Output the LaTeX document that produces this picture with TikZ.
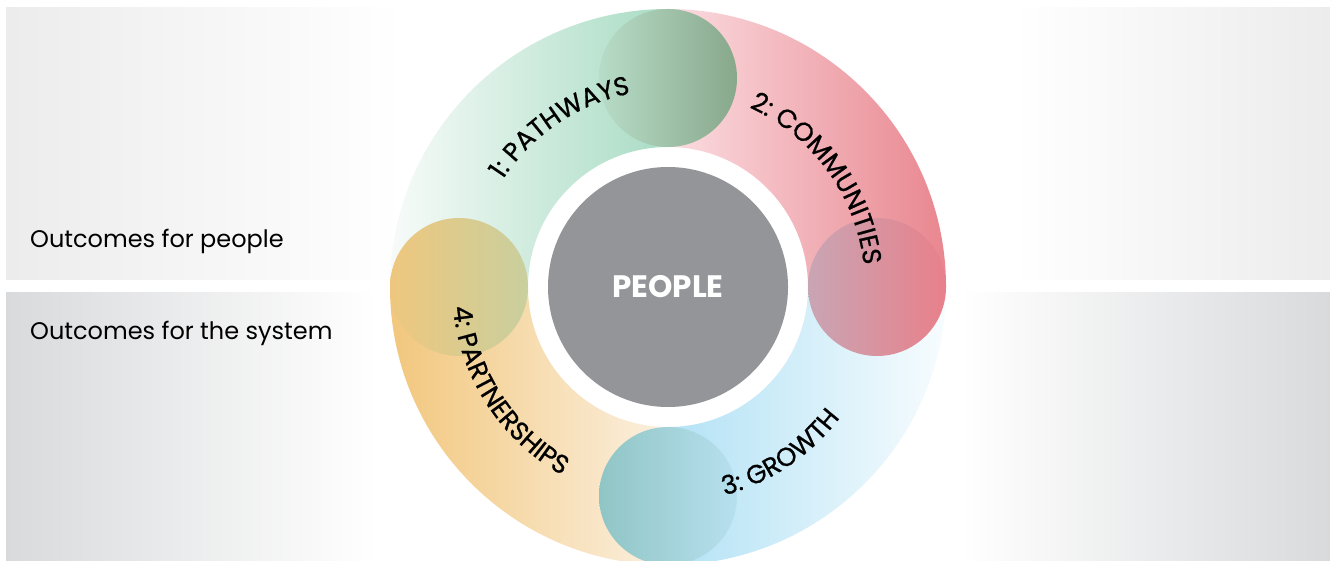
\documentclass[tikz,border=0pt]{standalone}
\usepackage{fontspec}
\setmainfont{Poppins}
\newfontfamily\ringfont[FakeBold=0.8]{Poppins}
\usetikzlibrary{decorations.text}

\definecolor{bandA}{HTML}{ECECEC}
\definecolor{bandB}{HTML}{D9DADC}
\definecolor{grnA}{HTML}{F7FBF9}
\definecolor{grnB}{HTML}{A9DCC4}
\definecolor{pnkA}{HTML}{FADDE1}
\definecolor{pnkB}{HTML}{E9868F}
\definecolor{bluA}{HTML}{B3E2F5}
\definecolor{bluB}{HTML}{F7FCFE}
\definecolor{orgA}{HTML}{F2C77D}
\definecolor{orgB}{HTML}{FBF0E0}
\definecolor{capgrnA}{HTML}{B7DCC7}
\definecolor{capgrnB}{HTML}{88A88B}
\definecolor{cappnkA}{HTML}{C9A5B4}
\definecolor{cappnkB}{HTML}{E8808A}
\definecolor{capbluA}{HTML}{90C5C5}
\definecolor{capbluB}{HTML}{B7E0EE}
\definecolor{caporgA}{HTML}{EEC77E}
\definecolor{caporgB}{HTML}{C9CF9E}
\definecolor{peoplegrey}{HTML}{939598}

\pgfdeclarehorizontalshading{topband}{100bp}{color(0bp)=(bandA); color(25bp)=(bandA); color(40bp)=(white); color(63bp)=(white); color(75bp)=(bandA); color(100bp)=(bandA)}
\pgfdeclarehorizontalshading{lowband}{100bp}{color(0bp)=(bandB); color(25bp)=(bandB); color(39bp)=(white); color(61bp)=(white); color(75bp)=(bandB); color(100bp)=(bandB)}

\newcommand\ringlabel{\ringfont\fontsize{26}{26}\selectfont}

\begin{document}
\begin{tikzpicture}[x=1pt,y=1pt]
	\useasboundingbox (0,0) rectangle (1330,560);
	\clip (0,0) rectangle (1330,560);
	\coordinate (O) at (668,273);

	% the two bands
	\fill[shading=topband] (6,280) rectangle (1330,552);
	\fill[shading=lowband] (6,0) rectangle (1330,267);
	\node[anchor=west,inner sep=0,font=\fontsize{24}{24}\selectfont] (tpeople) at (30,319) {Outcomes for people};
	\node[anchor=west,inner sep=0,font=\fontsize{24}{24}\selectfont] (tsystem) at (30,227) {Outcomes for the system};

	% ring parts
	\fill[white] (O) circle[radius=140];
	\shade[left color=grnA, right color=grnB] ([shift={(180:278)}]O) arc[start angle=180, end angle=90, radius=278] -- ([shift={(90:140)}]O) arc[start angle=90, end angle=180, radius=140] -- cycle;
	\shade[left color=pnkA, right color=pnkB] ([shift={(90:278)}]O) arc[start angle=90, end angle=0, radius=278] -- ([shift={(0:140)}]O) arc[start angle=0, end angle=90, radius=140] -- cycle;
	\shade[left color=bluA, right color=bluB] ([shift={(0:278)}]O) arc[start angle=0, end angle=-90, radius=278] -- ([shift={(-90:140)}]O) arc[start angle=-90, end angle=0, radius=140] -- cycle;
	\shade[left color=orgA, right color=orgB] ([shift={(-90:278)}]O) arc[start angle=-90, end angle=-180, radius=278] -- ([shift={(-180:140)}]O) arc[start angle=-180, end angle=-90, radius=140] -- cycle;

	% end caps
	\tikzstyle{endcap}=[radius=69]
	\shade[endcap, left color=capgrnA, right color=capgrnB] ([shift={(90:209)}]O) circle;
	\shade[endcap, left color=cappnkA, right color=cappnkB] ([shift={(0:209)}]O) circle;
	\shade[endcap, left color=capbluA, right color=capbluB] ([shift={(-90:209)}]O) circle;
	\shade[endcap, left color=caporgA, right color=caporgB] ([shift={(180:209)}]O) circle;

	\node[circle,fill=peoplegrey,minimum size=240,inner sep=0,text=white,font=\fontsize{31}{31}\selectfont\bfseries] (people) at (O) {PEOPLE};

	% labels on the ring
	\path[decorate, decoration={text along path, text align=center, text={|\ringlabel|1: PATHWAYS}}] ([shift={(174:197)}]O) arc[start angle=174, end angle=74, radius=197];
	\path[decorate, decoration={text along path, text align=center, text={|\ringlabel|2: COMMUNITIES}}] ([shift={(86:197)}]O) arc[start angle=86, end angle=-14, radius=197];
	\path[decorate, decoration={text along path, text align=center, text={|\ringlabel|3: GROWTH}}] ([shift={(-106:216)}]O) arc[start angle=-106, end angle=-6, radius=216];
	\path[decorate, decoration={text along path, text align=center, text={|\ringlabel|4: PARTNERSHIPS}}] ([shift={(163:216)}]O) arc[start angle=163, end angle=263, radius=216];
\end{tikzpicture}
\end{document}
